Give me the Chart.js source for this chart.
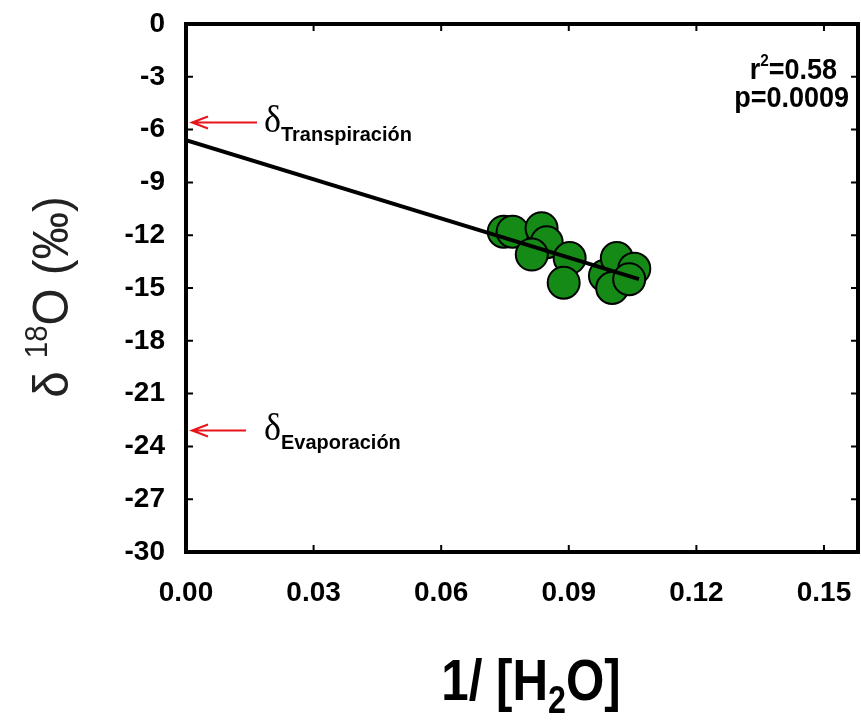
<!DOCTYPE html>
<html>
<head>
<meta charset="utf-8">
<script src="https://cdn.jsdelivr.net/npm/chart.js@4.4.0/dist/chart.umd.min.js"></script>
<style>
  html, body { margin: 0; padding: 0; background: #fff; overflow: hidden; }
  #wrap { width: 861px; height: 724px; }
  canvas { display: block; }
</style>
</head>
<body>
<div id="wrap"><canvas id="chart" width="861" height="724"></canvas></div>
<script>
// Values
const invWater = [0.0747, 0.0768, 0.0836, 0.0848, 0.0813, 0.0902, 0.0888, 0.0985, 0.1013, 0.1002, 0.1054, 0.1042];
const delta18O = [-11.8, -11.8, -11.6, -12.4, -13.1, -13.3, -14.7, -14.3, -13.3, -15.0, -13.9, -14.5];
const fitX = [0, 0.1065];
const fitY = [-6.6, -14.5];
const xTicks = [0, 0.03, 0.06, 0.09, 0.12, 0.15];
const yTicks = [0, -3, -6, -9, -12, -15, -18, -21, -24, -27, -30];
const endMemberNames = ['Transpiración', 'Evaporación'];
const endMemberValues = [-5.6, -23.1];
const statLines = ['r|2|=0.58', 'p=0.0009'];

const FONT = '"Liberation Sans", Arial, sans-serif';
const SERIF = '"Liberation Serif", "Times New Roman", serif';

// draw a string made of pieces with different size / vertical shift
function drawPieces(ctx, pieces, x, y, align, sx) {
    sx = sx || 1;
    let w = 0;
    pieces.forEach(p => { ctx.font = p.font; w += ctx.measureText(p.text).width; });
    w *= sx;
    let cx = align === 'right' ? x - w : align === 'center' ? x - w / 2 : x;
    ctx.textAlign = 'left';
    ctx.textBaseline = 'alphabetic';
    pieces.forEach(p => {
        ctx.font = p.font;
        ctx.save();
        ctx.translate(cx, y + (p.dy || 0));
        ctx.scale(sx, 1);
        ctx.fillText(p.text, 0, 0);
        ctx.restore();
        cx += ctx.measureText(p.text).width * sx;
    });
}

const decorations = {
    id: 'decorations',
    afterDraw(chart) {
        const ctx = chart.ctx;
        const a = chart.chartArea;
        const xs = chart.scales.x, ys = chart.scales.y;
        ctx.save();

        // frame
        ctx.strokeStyle = '#000';
        ctx.lineWidth = 4;
        ctx.strokeRect(a.left, a.top, a.right - a.left, a.bottom - a.top);

        // inward ticks on all four sides
        ctx.lineWidth = 2;
        ctx.beginPath();
        xTicks.forEach(v => {
            const px = xs.getPixelForValue(v);
            ctx.moveTo(px, a.bottom); ctx.lineTo(px, a.bottom - 7);
            ctx.moveTo(px, a.top); ctx.lineTo(px, a.top + 7);
        });
        yTicks.forEach(v => {
            const py = ys.getPixelForValue(v);
            ctx.moveTo(a.left, py); ctx.lineTo(a.left + 7, py);
            ctx.moveTo(a.right, py); ctx.lineTo(a.right - 7, py);
        });
        ctx.stroke();

        // end member arrows and labels
        ctx.fillStyle = '#000';
        endMemberNames.forEach((name, i) => {
            const py = ys.getPixelForValue(endMemberValues[i]);
            const tip = a.left + 6;
            const tail = a.left + (i === 0 ? 71 : 60);
            ctx.strokeStyle = '#e8141b';
            ctx.lineWidth = 2;
            ctx.beginPath();
            ctx.moveTo(tail, py); ctx.lineTo(tip, py);
            ctx.moveTo(tip + 16, py - 6); ctx.lineTo(tip, py); ctx.lineTo(tip + 16, py + 6);
            ctx.stroke();
            drawPieces(ctx, [
                { text: 'δ', font: '38px ' + SERIF },
                { text: name, font: 'bold 21px ' + FONT, dy: 9 }
            ], a.left + 78, py + 9, 'left', 0.95);
        });

        // statistics
        statLines.forEach((s, i) => {
            const parts = s.split('|');
            const pieces = parts.length === 3
                ? [{ text: parts[0], font: 'bold 30px ' + FONT },
                   { text: parts[1], font: 'bold 17px ' + FONT, dy: -13 },
                   { text: parts[2], font: 'bold 30px ' + FONT }]
                : [{ text: s, font: 'bold 30px ' + FONT }];
            drawPieces(ctx, pieces, a.right - (i === 0 ? 21 : 9), a.top + 55 + i * 28, 'right', 0.9);
        });

        // x axis title
        drawPieces(ctx, [
            { text: '1/ [H', font: 'bold 58px ' + FONT },
            { text: '2', font: 'bold 38px ' + FONT, dy: 13 },
            { text: 'O]', font: 'bold 58px ' + FONT }
        ], (a.left + a.right) / 2 + 9, 700, 'center', 0.85);

        // y axis title (rotated)
        ctx.translate(50, (a.top + a.bottom) / 2 + 9);
        ctx.rotate(-Math.PI / 2);
        ctx.fillStyle = '#222';
        drawPieces(ctx, [
            { text: 'δ ', font: '50px ' + FONT },
            { text: '18', font: '31px ' + FONT, dy: -21 },
            { text: 'O (‰)', font: '50px ' + FONT }
        ], 0, 18, 'center', 0.95);

        ctx.restore();
    }
};

const points = invWater.map((x, i) => ({ x: x, y: delta18O[i] }));
const fitLine = fitX.map((x, i) => ({ x: x, y: fitY[i] }));

new Chart(document.getElementById('chart'), {
    type: 'scatter',
    data: {
        datasets: [
            {
                type: 'line',
                data: fitLine,
                borderColor: '#000',
                borderWidth: 4,
                pointRadius: 0,
                fill: false,
                order: 0
            },
            {
                data: points,
                backgroundColor: '#168a16',
                borderColor: '#000',
                borderWidth: 2,
                pointRadius: 16,
                order: 1
            }
        ]
    },
    options: {
        responsive: false,
        animation: false,
        layout: { autoPadding: false, padding: { top: 24, right: 3, left: 0, bottom: 0 } },
        plugins: { legend: { display: false }, tooltip: { enabled: false } },
        scales: {
            x: {
                type: 'linear',
                min: 0,
                max: 0.158,
                afterBuildTicks: s => { s.ticks = xTicks.map(v => ({ value: v })); },
                afterFit: s => { s.height = 172; s.paddingLeft = 0; s.paddingRight = 0; },
                grid: { display: false, drawTicks: false },
                border: { display: false },
                ticks: {
                    padding: 24,
                    color: '#000',
                    font: { family: FONT, size: 28, weight: 'bold' },
                    callback: v => v.toFixed(2)
                }
            },
            y: {
                type: 'linear',
                min: -30,
                max: 0,
                afterBuildTicks: s => { s.ticks = yTicks.map(v => ({ value: v })); },
                afterFit: s => { s.width = 186; s.paddingTop = 0; s.paddingBottom = 0; },
                grid: { display: false, drawTicks: false },
                border: { display: false },
                ticks: {
                    padding: 21,
                    color: '#000',
                    font: { family: FONT, size: 28, weight: 'bold' },
                    callback: v => String(v)
                }
            }
        }
    },
    plugins: [decorations]
});
</script>
</body>
</html>
